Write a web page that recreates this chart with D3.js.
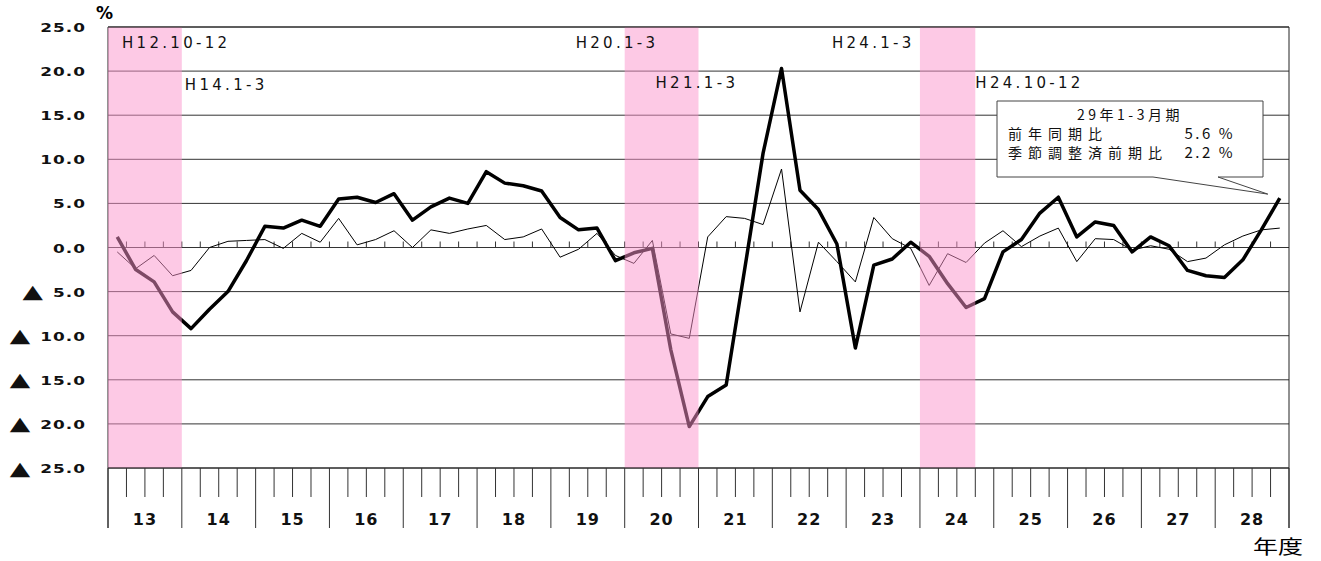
<!DOCTYPE html>
<html>
<head>
<meta charset="utf-8">
<script src="https://cdn.jsdelivr.net/npm/d3@7/dist/d3.min.js"></script>
<style>
body{margin:0;background:#fff}
svg{display:block}
</style>
</head>
<body>
<svg id="chart" width="1321" height="561"></svg>
<script>
const years=[13,14,15,16,17,18,19,20,21,22,23,24,25,26,27,28]
const quarters=[1,2,3,4]
const periods=years.flatMap(y=>quarters.map(q=>y+'-'+q))
// 前年同期比
const yoy=[1.2,-2.5,-3.9,-7.3, -9.2,-7.0,-5.0,-1.5, 2.4,2.2,3.1,2.4, 5.5,5.7,5.1,6.1,
  3.1,4.6,5.6,5.0, 8.6,7.3,7.0,6.4, 3.4,2.0,2.2,-1.5, -0.6,-0.1,-11.6,-20.3,
  -16.9,-15.6,-2.5,10.7, 20.3,6.5,4.3,0.4, -11.4,-2.0,-1.3,0.6, -1.0,-4.1,-6.8,-5.8,
  -0.5,0.9,3.9,5.7, 1.2,2.9,2.5,-0.5, 1.2,0.2,-2.6,-3.2, -3.4,-1.4,2.0,5.6]
// 季節調整済前期比
const qoq=[-0.5,-2.4,-0.9,-3.2, -2.6,0.0,0.7,0.8, 0.9,-0.1,1.6,0.6, 3.3,0.3,0.9,1.9,
  0.0,2.0,1.6,2.1, 2.5,0.9,1.2,2.1, -1.1,-0.2,1.6,-0.9, -1.8,0.8,-9.8,-10.3,
  1.2,3.5,3.3,2.6, 8.9,-7.3,0.6,-1.6, -3.9,3.4,1.0,-0.1, -4.3,-0.7,-1.7,0.5,
  1.9,0.1,1.3,2.2, -1.6,1.0,0.9,-0.3, 0.2,-0.2,-1.6,-1.2, 0.3,1.3,2.0,2.2]
const recessions=[['13-1','13-4'],['20-1','20-4'],['24-1','24-3']]
const turningLabels=['H12.10-12','H14.1-3','H20.1-3','H21.1-3','H24.1-3','H24.10-12']
const yTicks=[25,20,15,10,5,0,-5,-10,-15,-20,-25]
const noteTitle='29年1-3月期'
const noteRows=['前年同期比','季節調整済前期比']

const plotLeft=108,plotRight=1289,plotTop=27,plotBottom=468,axisBottom=528
const svg=d3.select('#chart')
const x=d3.scaleBand().domain(periods).range([plotLeft,plotRight])
const y=d3.scaleLinear().domain([-25,25]).range([plotBottom,plotTop])
const cx=d=>x(d)+x.bandwidth()/2
const font='"DejaVu Sans", Verdana, sans-serif'
const cjk='"Noto Sans CJK JP", sans-serif'

svg.append('rect').attr('width',1321).attr('height',561).attr('fill','#fff')

svg.append('g')
  .selectAll('line')
  .data(yTicks)
  .join('line')
  .attr('x1',plotLeft).attr('x2',plotRight)
  .attr('y1',d=>y(d)).attr('y2',d=>y(d))
  .attr('stroke','#333')
  .attr('stroke-width',1)

// ticks on the zero line
svg.append('g')
  .selectAll('line')
  .data(periods.slice(1))
  .join('line')
  .attr('x1',d=>x(d)).attr('x2',d=>x(d))
  .attr('y1',y(0)).attr('y2',y(0)-6)
  .attr('stroke','#333')

const line=d3.line()
  .x((d,i)=>cx(periods[i]))
  .y(d=>y(d))

svg.append('path')
  .datum(qoq)
  .attr('fill','none')
  .attr('stroke','#000')
  .attr('stroke-width',1)
  .attr('stroke-linejoin','round')
  .attr('d',line)

svg.append('path')
  .datum(yoy)
  .attr('fill','none')
  .attr('stroke','#000')
  .attr('stroke-width',3.5)
  .attr('stroke-linejoin','round')
  .attr('d',line)

svg.append('line')
  .attr('x1',plotLeft).attr('x2',plotLeft)
  .attr('y1',plotTop).attr('y2',axisBottom)
  .attr('stroke','#222')

svg.append('g')
  .selectAll('rect')
  .data(recessions)
  .join('rect')
  .attr('x',d=>x(d[0]))
  .attr('width',d=>x(d[1])+x.bandwidth()-x(d[0]))
  .attr('y',plotTop)
  .attr('height',plotBottom-plotTop)
  .attr('fill','rgb(252,148,204)')
  .attr('fill-opacity',0.5)

// frame and bottom axis
svg.append('line')
  .attr('x1',plotLeft).attr('x2',plotRight)
  .attr('y1',plotTop).attr('y2',plotTop)
  .attr('stroke','#222')
svg.append('line')
  .attr('x1',plotLeft).attr('x2',plotRight)
  .attr('y1',plotBottom).attr('y2',plotBottom)
  .attr('stroke','#222')
svg.append('line')
  .attr('x1',plotRight).attr('x2',plotRight)
  .attr('y1',plotTop).attr('y2',axisBottom)
  .attr('stroke','#222')

const edges=d3.range(periods.length+1)
svg.append('g')
  .selectAll('line')
  .data(edges)
  .join('line')
  .attr('x1',i=>plotLeft+i*x.step()).attr('x2',i=>plotLeft+i*x.step())
  .attr('y1',plotBottom)
  .attr('y2',i=>i%4===0?axisBottom:497)
  .attr('stroke','#333')

svg.append('g')
  .selectAll('text')
  .data(years)
  .join('text')
  .attr('x',d=>x(d+'-1')+x.step()*2)
  .attr('y',524.5)
  .attr('text-anchor','middle')
  .attr('font-family',font)
  .attr('font-size',16)
  .attr('font-weight','bold')
  .attr('letter-spacing',1)
  .attr('fill','#111')
  .text(d=>d)

// y labels: wide bold numbers, plus a wide ▲ for negatives
const yLab=svg.append('g')
  .attr('font-family',font)
  .attr('fill','#111')
const stretch=1.3
const labRight=86
yLab.selectAll('.num')
  .data(yTicks)
  .join('text')
  .attr('class','num')
  .attr('transform',d=>`translate(${labRight},${y(d)+5}) scale(${stretch},1)`)
  .attr('text-anchor','end')
  .attr('font-size',13)
  .attr('font-weight','bold')
  .attr('letter-spacing',0.8)
  .text(d=>Math.abs(d).toFixed(1))
  .each(function(d){
    if(d>=0) return
    const start=labRight-this.getComputedTextLength()*stretch
    yLab.append('text')
      .attr('transform',`translate(${start-10},${y(d)+6.5}) scale(1.4,1)`)
      .attr('text-anchor','end')
      .attr('font-size',19)
      .text('▲')
  })

svg.append('text')
  .attr('x',96).attr('y',19)
  .attr('font-family',font)
  .attr('font-size',17)
  .attr('font-weight','bold')
  .text('%')

svg.append('text')
  .attr('x',1253).attr('y',554)
  .attr('font-family',cjk)
  .attr('font-size',19)
  .attr('textLength',50)
  .attr('lengthAdjust','spacingAndGlyphs')
  .text('年度')

// peak / trough labels, placed next to the shaded periods
const bandStart=r=>x(r[0])
const bandEnd=r=>x(r[1])+x.bandwidth()
const labelPos=[
  [bandStart(recessions[0])+14,48],
  [bandEnd(recessions[0])+3,90],
  [bandStart(recessions[1])-49,48],
  [bandEnd(recessions[1])-43,88],
  [bandStart(recessions[2])-88,48],
  [bandEnd(recessions[2]),88]
]
svg.append('g')
  .selectAll('text')
  .data(turningLabels)
  .join('text')
  .attr('x',(d,i)=>labelPos[i][0])
  .attr('y',(d,i)=>labelPos[i][1])
  .attr('font-family',font)
  .attr('font-size',15)
  .attr('letter-spacing',3.3)
  .attr('fill','#111')
  .text(d=>d)

// callout for the latest quarter
const last=periods.length-1
const tipX=cx(periods[last])-12,tipY=y(yoy[last])-4
const bx0=997,bx1=1263,by0=101,by1=177
svg.append('path')
  .attr('d',`M${bx0},${by0}H${bx1}V${by1}H1218L${tipX},${tipY}L1153,${by1}H${bx0}Z`)
  .attr('fill','#fff')
  .attr('stroke','#444')
  .attr('stroke-width',1)

const note=svg.append('g')
  .attr('font-family',cjk)
  .attr('font-size',14)
  .attr('fill','#111')
note.append('text')
  .attr('x',1130).attr('y',120)
  .attr('text-anchor','middle')
  .attr('letter-spacing',3.5)
  .text(noteTitle)
note.selectAll('.lbl')
  .data(noteRows)
  .join('text')
  .attr('class','lbl')
  .attr('x',1008)
  .attr('y',(d,i)=>139+i*19)
  .attr('letter-spacing',6)
  .text(d=>d)
note.selectAll('.val')
  .data([yoy[last],qoq[last]])
  .join('text')
  .attr('class','val')
  .attr('x',1235)
  .attr('y',(d,i)=>139+i*19)
  .attr('text-anchor','end')
  .attr('font-size',15)
  .attr('letter-spacing',2.5)
  .text(d=>d.toFixed(1)+' %')
</script>
</body>
</html>
